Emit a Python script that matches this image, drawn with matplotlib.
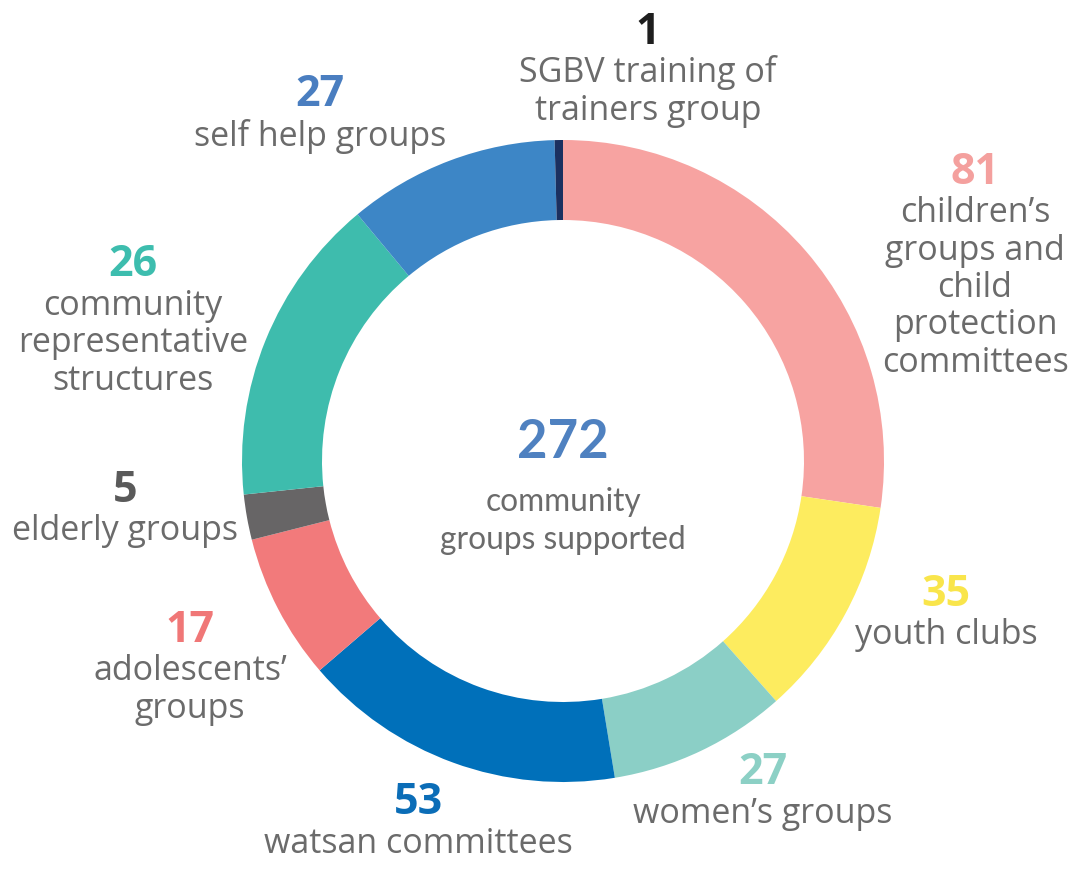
import matplotlib.pyplot as plt

# groups, in ring order (clockwise from the top)
groups = ["children’s\ngroups and\nchild\nprotection\ncommittees", "youth clubs",
          "women’s groups", "watsan committees", "adolescents’\ngroups",
          "elderly groups", "community\nrepresentative\nstructures",
          "self help groups", "SGBV training of\ntrainers group"]
counts = [81, 35, 27, 53, 17, 5, 26, 27, 1]
# arc sizes as drawn in the graphic (degrees, the design is not to scale)
arc_deg = [98.4, 40.0, 32.3, 58.6, 26.5, 8.2, 56.2, 38.3, 1.5]
colors = ['#F7A3A1', '#FDEC5F', '#8BCFC6', '#0070BA', '#F27A7B',
          '#676566', '#3EBCAD', '#3D86C6', '#1B3060']
num_colors = ['#F4A09E', '#F9E54B', '#8CD0C5', '#0B6DB7', '#F07777',
              '#5A5A5A', '#3DBDAE', '#4A7EC0', '#1E1E1E']
total = sum(counts)

W, H = 1081, 877
fig = plt.figure(figsize=(W / 100, H / 100), dpi=100)
ax = fig.add_axes([0, 0, 1, 1])

ax.pie(arc_deg, colors=colors, startangle=90, counterclock=False,
       center=(563, H - 461), radius=321, frame=True,
       wedgeprops=dict(width=80, linewidth=0))
ax.set_xlim(0, W)
ax.set_ylim(0, H)
ax.set_aspect('equal')
ax.axis('off')

font = 'Open Sans'
grey = '#6B6B6B'

# label anchor (x, y of number from top), label block follows below
label_pos = [(975, 172), (946, 594), (763, 773), (418, 803), (190, 630),
             (125, 490), (133, 265), (320, 95), (648, 32)]

for name, n, c, (x, y) in zip(groups, counts, num_colors, label_pos):
    ax.text(x, H - y, str(n), ha='center', va='center', fontsize=31,
            fontweight='bold', color=c, family=font)
    for i, line in enumerate(name.split('\n')):
        ax.text(x, H - (y + 41 + 37.5 * i), line, ha='center', va='center',
                fontsize=24.5, color=grey, family=font)

ax.text(563, H - 442, str(total), ha='center', va='center', fontsize=38,
        fontweight='bold', color='#4F81C0', family='Lato')
ax.text(563, H - 502, 'community', ha='center', va='center', fontsize=22.8,
        color=grey, family='Lato')
ax.text(563, H - 540, 'groups supported', ha='center', va='center', fontsize=22.8,
        color=grey, family='Lato')

fig.savefig('out.png', dpi=100, facecolor='white')
